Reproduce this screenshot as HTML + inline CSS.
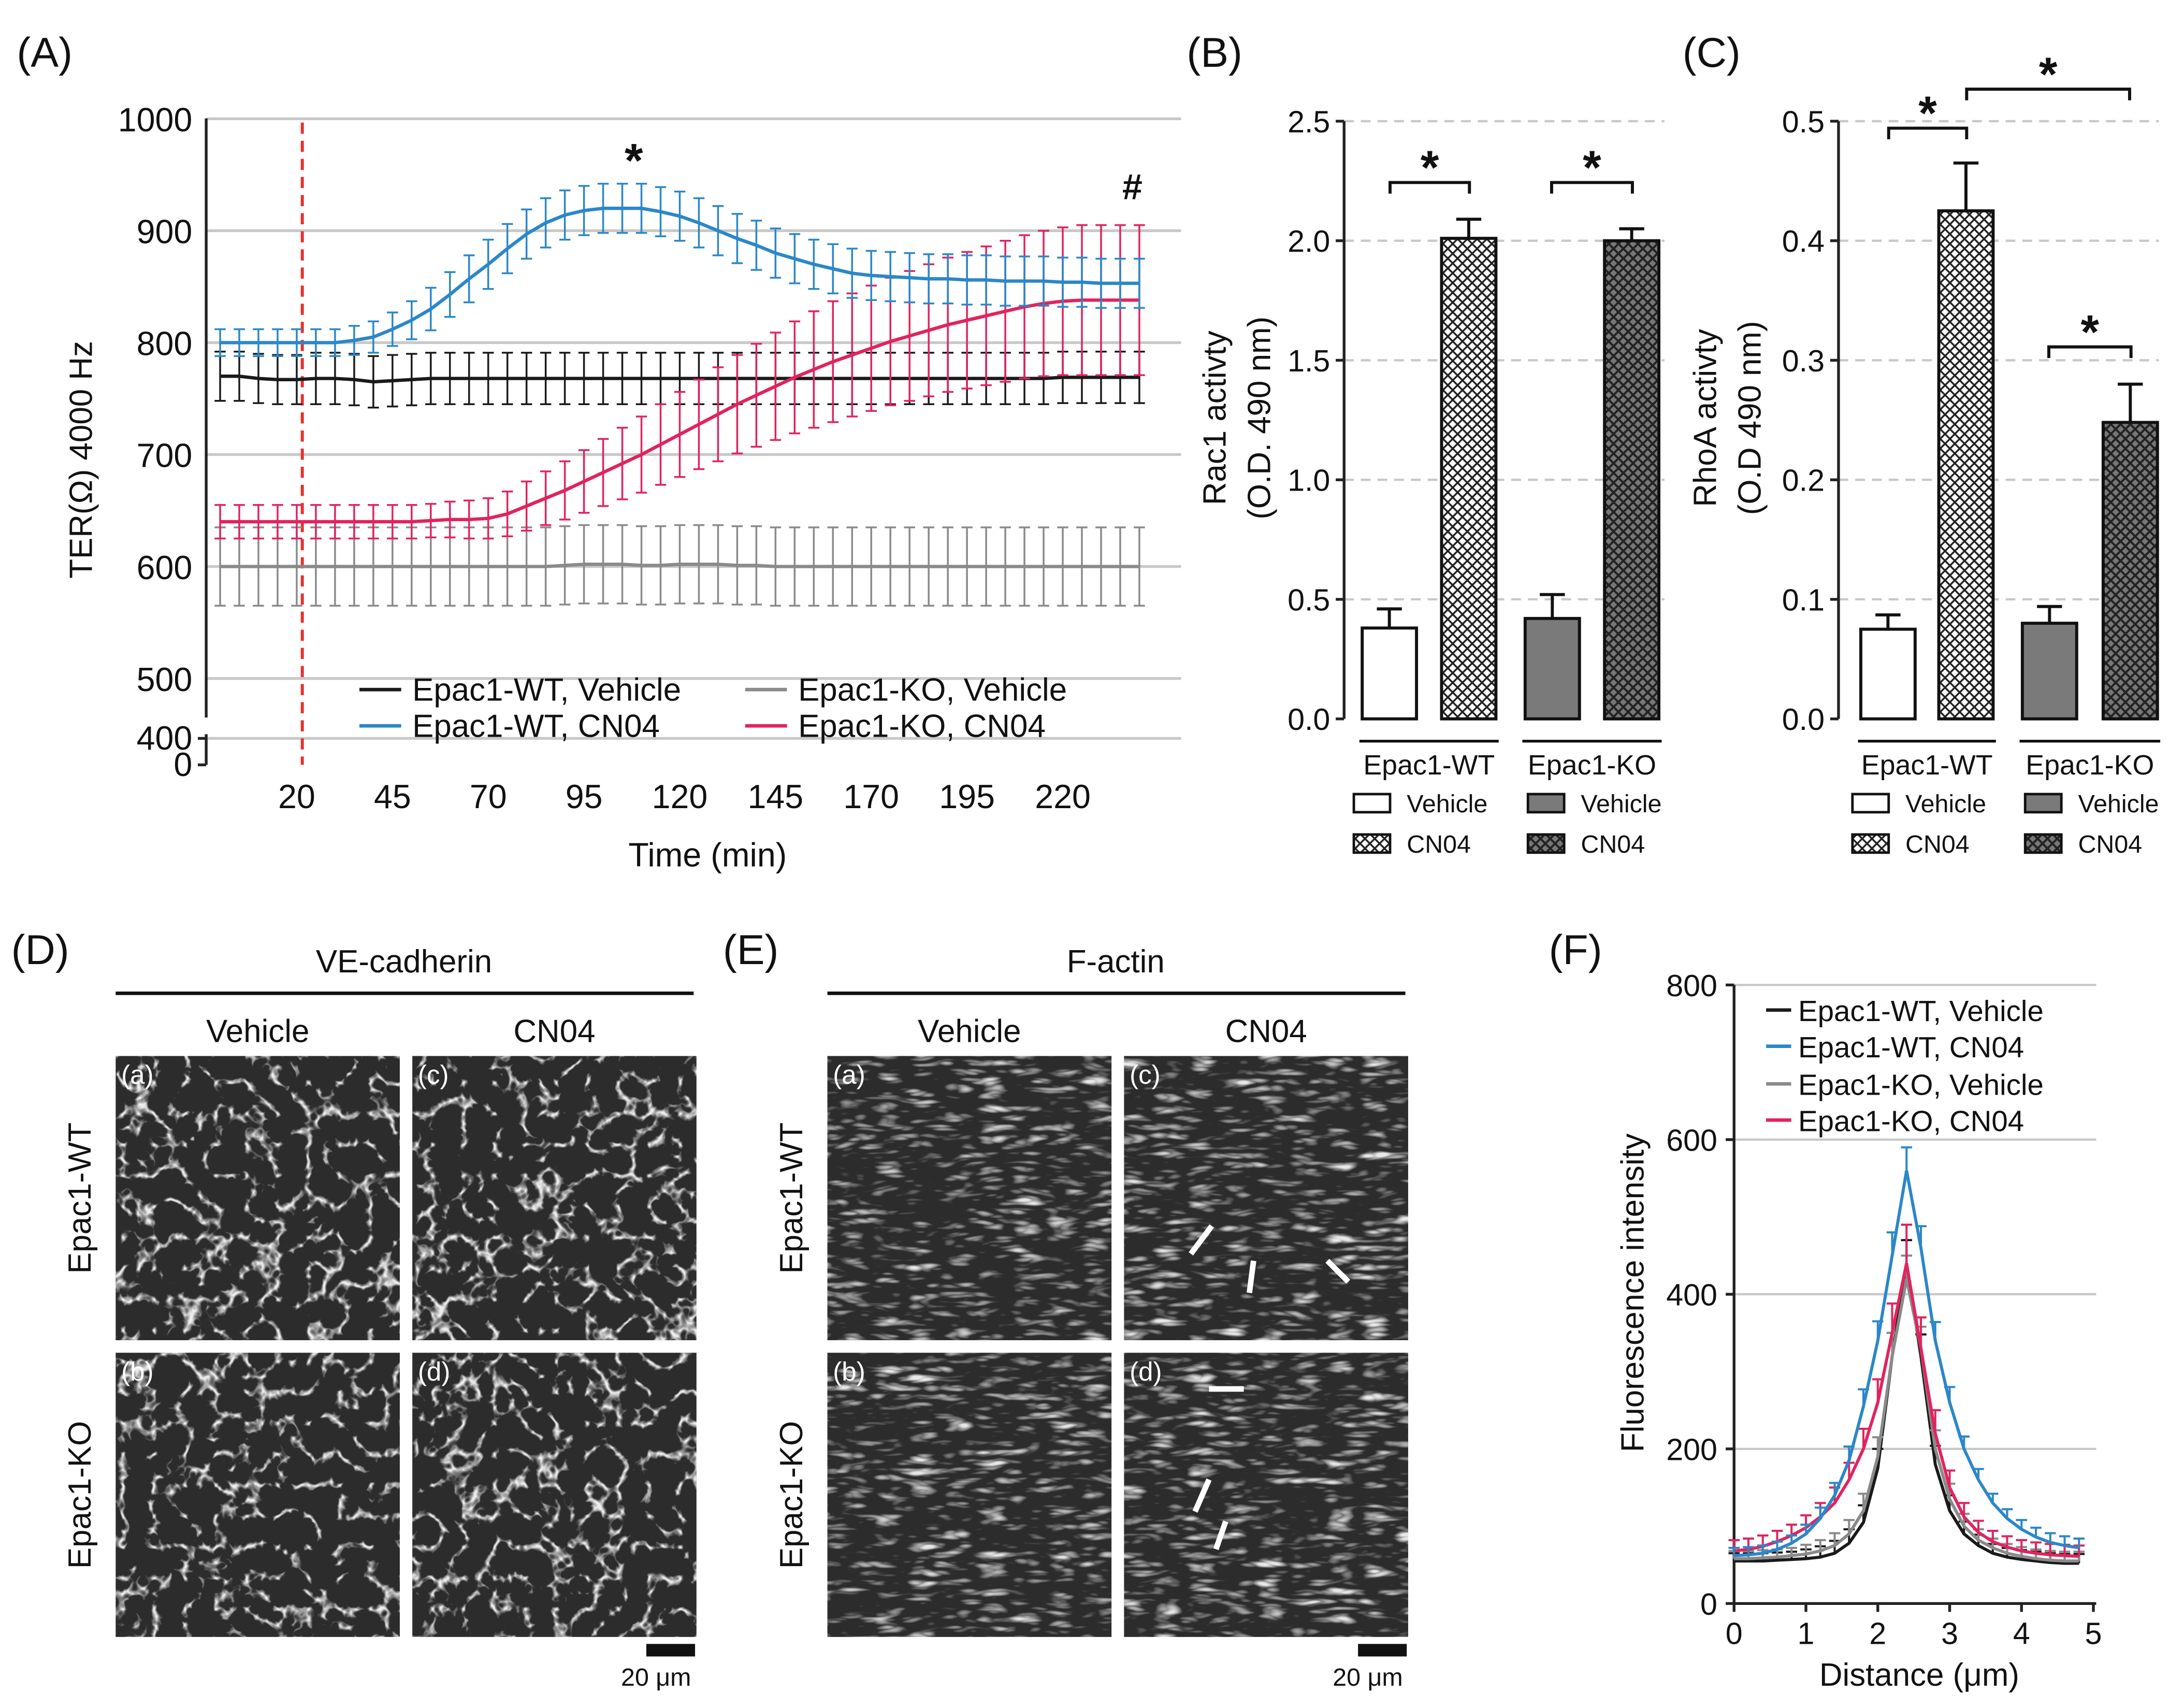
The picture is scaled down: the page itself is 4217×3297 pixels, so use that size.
<!DOCTYPE html>
<html><head><meta charset="utf-8"><style>
html,body{margin:0;padding:0;background:#fff}
svg{display:block}
text{font-family:"Liberation Sans",Arial,sans-serif;fill:#111}
</style></head><body>
<svg id="fig" width="4217" height="3297" viewBox="0 0 1568 1226" xmlns="http://www.w3.org/2000/svg">
<defs>
<pattern id="hatch" width="7" height="7" patternUnits="userSpaceOnUse"><rect width="7" height="7" fill="#fff"/><path d="M0,0L7,7M7,0L0,7" stroke="#222" stroke-width="1.3"/></pattern>
<pattern id="hatchd" width="7" height="7" patternUnits="userSpaceOnUse"><rect width="7" height="7" fill="#777"/><path d="M0,0L7,7M7,0L0,7" stroke="#222" stroke-width="1.5"/></pattern>
<filter id="tex1" x="0" y="0" width="100%" height="100%"><feTurbulence type="turbulence" baseFrequency="0.045" numOctaves="3" seed="3"/><feColorMatrix type="matrix" values="0 0 0 0 0.85 0 0 0 0 0.85 0 0 0 0 0.85 0 0 0 -6 1.25"/></filter>
<filter id="tex2" x="0" y="0" width="100%" height="100%"><feTurbulence type="turbulence" baseFrequency="0.04 0.15" numOctaves="2" seed="7"/><feColorMatrix type="matrix" values="0 0 0 0 0.8 0 0 0 0 0.8 0 0 0 0 0.8 0 0 0 2.2 -0.6"/></filter>
</defs>
<g id="root"></g>
</svg>
<script>
// ---------- Panel A data ----------
const aTimes=[0,5,10,15,20,25,30,35,40,45,50,55,60,65,70,75,80,85,90,95,100,105,110,115,120,125,130,135,140,145,150,155,160,165,170,175,180,185,190,195,200,205,210,215,220,225,230,235,240];
const aWTveh=[770,770,768,767,767,768,768,767,765,766,767,768,768,768,768,768,768,768,768,768,768,768,768,768,768,768,768,768,768,768,768,768,768,768,768,768,768,768,768,768,768,768,768,768,769,769,769,769,769];
const aWTvehErr=[22,22,22,22,22,23,23,23,23,23,23,23,23,23,23,23,23,23,23,23,23,23,23,23,23,23,23,23,23,23,23,23,23,23,23,23,23,23,23,23,23,23,23,23,23,23,23,23,23];
const aKOveh=[600,600,600,600,600,600,600,600,600,600,600,600,600,600,600,600,600,600,601,602,602,602,601,601,602,602,602,601,601,600,600,600,600,600,600,600,600,600,600,600,600,600,600,600,600,600,600,600,600];
const aKOvehErr=[35,35,35,35,35,35,35,35,35,35,35,35,35,35,35,35,35,35,35,35,35,35,35,35,35,35,35,35,35,35,35,35,35,35,35,35,35,35,35,35,35,35,35,35,35,35,35,35,35];
const aWTcn=[800,800,800,800,800,800,800,802,805,812,820,830,843,857,870,884,897,907,914,918,920,920,920,917,913,907,900,893,887,880,875,870,866,862,860,859,858,857,857,856,856,855,855,855,854,854,853,853,853];
const aWTcnErr=[12,12,12,12,12,12,12,13,14,15,17,19,20,21,22,22,22,22,22,22,22,22,22,22,22,22,22,22,22,22,22,22,22,22,22,22,22,22,22,22,22,22,22,22,22,22,22,22,22];
const aKOcn=[640,640,640,640,640,640,640,640,640,640,640,641,642,642,643,647,654,661,668,676,684,692,700,709,718,727,736,745,753,761,769,776,783,789,795,801,806,811,816,820,824,828,832,835,837,838,838,838,838];
const aKOcnErr=[15,15,15,15,15,15,15,15,15,15,15,15,16,17,18,20,22,24,26,28,30,32,34,36,38,40,42,44,46,48,50,52,54,55,56,57,58,59,60,61,62,63,64,65,66,67,67,67,67];
const aYTicks=[500,600,700,800,900,1000];
const aXTicks=[20,45,70,95,120,145,170,195,220];
// ---------- Panel B/C data ----------
const bVals=[0.38,2.01,0.42,2.00];
const bErrs=[0.08,0.08,0.10,0.05];
const bTicks=[0,0.5,1.0,1.5,2.0,2.5];
const cVals=[0.075,0.425,0.080,0.248];
const cErrs=[0.012,0.040,0.014,0.032];
const cTicks=[0,0.1,0.2,0.3,0.4,0.5];
// ---------- Panel F data ----------
const fDist=[0,0.2,0.4,0.6,0.8,1.0,1.2,1.4,1.6,1.8,2.0,2.2,2.4,2.6,2.8,3.0,3.2,3.4,3.6,3.8,4.0,4.2,4.4,4.6,4.8];
const fWTveh=[55,55,55,56,57,58,60,65,78,105,175,320,440,320,180,120,90,75,65,60,57,55,53,52,52];
const fWTcn=[62,63,65,70,78,90,110,140,185,255,340,450,560,460,340,260,200,160,130,110,96,86,79,75,72];
const fKOveh=[58,58,59,60,62,64,68,75,90,120,190,320,420,330,200,135,100,82,72,65,61,58,56,55,55];
const fKOcn=[68,70,74,80,88,98,112,130,160,200,260,350,440,330,220,150,112,92,80,73,68,65,63,62,61];
const fErrWT=[10,10,10,10,10,12,14,16,18,22,25,30,30,28,24,20,16,14,12,12,12,12,12,12,12];
const fErrKO=[14,14,14,14,14,16,18,20,22,26,30,38,50,40,30,22,18,15,14,14,14,14,14,14,14];
const fTicks=[0,200,400,600,800];
const fXTicks=[0,1,2,3,4,5];

const NS="http://www.w3.org/2000/svg";
const root=document.getElementById('root');
function el(tag,attrs,parent,txt){const e=document.createElementNS(NS,tag);for(const k in attrs)e.setAttribute(k,attrs[k]);if(txt!==undefined)e.textContent=txt;(parent||root).appendChild(e);return e;}

// ===== Panel A =====
const ax=t=>158+t*2.75;
const ay=v=>v>=500?487-(v-500)*0.8035:549-v*0.0475;
const gA=el('g',{});


let t=el('text',{x:12,y:48,'font-size':30},gA,'(A)');

aYTicks.forEach(v=>{
  const g=el('line',{x1:148,x2:848,y1:ay(v),y2:ay(v),stroke:'#c8c8c8','stroke-width':2},gA);
  
  const l=el('text',{x:138,y:ay(v)+9,'font-size':24,'text-anchor':'end'},gA,String(v));
  
});
el('line',{x1:148,x2:848,y1:530,y2:530,stroke:'#c8c8c8','stroke-width':2},gA);
t=el('text',{x:138,y:538,'font-size':24,'text-anchor':'end'},gA,'400');
t=el('text',{x:138,y:557,'font-size':24,'text-anchor':'end'},gA,'0');
el('path',{d:'M148,85V515M148,527V549',stroke:'#222','stroke-width':2,fill:'none'},gA);
[530,549].forEach(y=>el('line',{x1:142,x2:148,y1:y,y2:y,stroke:'#222','stroke-width':2},gA));
aXTicks.forEach(v=>{
  const l=el('text',{x:ax(v),y:580,'font-size':24,'text-anchor':'middle'},gA,String(v));
  
});
t=el('text',{x:508,y:622,'font-size':24,'text-anchor':'middle'},gA,'Time (min)');
t=el('text',{x:0,y:0,'font-size':23,'text-anchor':'middle',transform:'translate(66,330) rotate(-90)'},gA,'TER(Ω) 4000 Hz');
t=el('line',{x1:217,x2:217,y1:88,y2:549,stroke:'#e8312b','stroke-width':2.2,'stroke-dasharray':'8,5'},gA);

function aSeries(vals,errs,col,name){
  const g=el('g',{},gA);
  
  aTimes.forEach((tt,i)=>{
    const x=ax(tt),y1=ay(vals[i]-errs[i]),y2=ay(vals[i]+errs[i]);
    el('path',{d:`M${x},${y1}V${y2}M${x-4},${y1}H${x+4}M${x-4},${y2}H${x+4}`,stroke:col,'stroke-width':1.3,fill:'none'},g);
  });
  el('polyline',{points:aTimes.map((tt,i)=>ax(tt)+','+ay(vals[i])).join(' '),stroke:col,'stroke-width':2.4,fill:'none'},g);
}
aSeries(aKOveh,aKOvehErr,'#8a8a8a','series-epac1-ko-vehicle');
aSeries(aWTveh,aWTvehErr,'#1a1a1a','series-epac1-wt-vehicle');
aSeries(aKOcn,aKOcnErr,'#e0245e','series-epac1-ko-cn04');
aSeries(aWTcn,aWTcnErr,'#2b87c8','series-epac1-wt-cn04');
t=el('text',{x:455,y:127,'font-size':34,'text-anchor':'middle','font-weight':'bold'},gA,'*');
t=el('text',{x:813,y:143,'font-size':26,'text-anchor':'middle','font-weight':'bold'},gA,'#');
[['Epac1-WT, Vehicle','#1a1a1a',258,495],['Epac1-WT, CN04','#2b87c8',258,521],['Epac1-KO, Vehicle','#8a8a8a',535,495],['Epac1-KO, CN04','#e0245e',535,521]].forEach(d=>{
  const g=el('g',{},gA);
  
  el('line',{x1:d[2],x2:d[2]+30,y1:d[3],y2:d[3],stroke:d[1],'stroke-width':2.5},g);
  el('text',{x:d[2]+38,y:d[3]+8,'font-size':23},g,d[0]);
});

// ===== Bar panels =====
function barPanel(label,lx,axX,vals,errs,ticks,max,bx,title1,title2,titleX,name,stars){
  const g=el('g',{});
  
  const y=v=>516-v/max*429;
  let tx=el('text',{x:lx,y:48,'font-size':30},g,label);
  ticks.forEach(v=>{
    if(v>0){const gl=el('line',{x1:axX,x2:axX+230,y1:y(v),y2:y(v),stroke:'#c8c8c8','stroke-width':1.6,'stroke-dasharray':'7,5'},g);}
    el('line',{x1:axX-6,x2:axX,y1:y(v),y2:y(v),stroke:'#222','stroke-width':2},g);
    const l=el('text',{x:axX-10,y:y(v)+8,'font-size':22,'text-anchor':'end'},g,v.toFixed(1));
    
  });
  el('line',{x1:axX,x2:axX,y1:y(max),y2:516,stroke:'#222','stroke-width':2},g);
  const fills=['#fff','url(#hatch)','#7a7a7a','url(#hatchd)'];
  vals.forEach((v,i)=>{
    const x=bx[i],w=39;
    const r=el('rect',{x:x,y:y(v),width:w,height:516-y(v),fill:fills[i],stroke:'#111','stroke-width':2.2},g);
    
    const cx=x+w/2,ye=y(v+errs[i]);
    el('path',{d:`M${cx},${y(v)}V${ye}M${cx-9},${ye}H${cx+9}`,stroke:'#111','stroke-width':2.2,fill:'none'},g);
  });
  el('line',{x1:bx[0]-2,x2:bx[1]+41,y1:532,y2:532,stroke:'#111','stroke-width':2},g);
  el('line',{x1:bx[2]-2,x2:bx[3]+41,y1:532,y2:532,stroke:'#111','stroke-width':2},g);
  tx=el('text',{x:(bx[0]+bx[1]+39)/2,y:556,'font-size':20,'text-anchor':'middle'},g,'Epac1-WT');
  tx=el('text',{x:(bx[2]+bx[3]+39)/2,y:556,'font-size':20,'text-anchor':'middle'},g,'Epac1-KO');
  [[bx[0]-6,570,'#fff','Vehicle'],[bx[0]-6,599,'url(#hatch)','CN04'],[bx[2]+2,570,'#7a7a7a','Vehicle'],[bx[2]+2,599,'url(#hatchd)','CN04']].forEach(d=>{
    const lg=el('g',{},g);
    
    el('rect',{x:d[0],y:d[1],width:26,height:13,fill:d[2],stroke:'#111','stroke-width':1.8},lg);
    el('text',{x:d[0]+38,y:d[1]+13,'font-size':18},lg,d[3]);
  });
  tx=el('text',{x:0,y:0,'font-size':23,'text-anchor':'middle',transform:`translate(${titleX},300) rotate(-90)`},g,title1);
  el('text',{x:0,y:0,'font-size':23,'text-anchor':'middle',transform:`translate(${titleX+32},300) rotate(-90)`},g,title2);
  stars.forEach(s=>{
    const sg=el('g',{},g);
    
    el('path',{d:`M${s[0]},${s[2]+8}V${s[2]}H${s[1]}V${s[2]+8}`,stroke:'#111','stroke-width':2.2,fill:'none'},sg);
    el('text',{x:(s[0]+s[1])/2,y:s[2]+1,'font-size':34,'font-weight':'bold','text-anchor':'middle'},sg,'*');
  });
}
barPanel('(B)',852,965,bVals,bErrs,bTicks,2.5,[978,1035,1095,1152],'Rac1 activty','(O.D. 490 nm)',880,'panel-b-rac1-chart',[[998,1055,131],[1114,1172,131]]);
barPanel('(C)',1208,1320,cVals,cErrs,cTicks,0.5,[1336,1392,1452,1510],'RhoA activty','(O.D 490 nm)',1232,'panel-c-rhoa-chart',[[1356,1412,92],[1412,1529,64],[1471,1530,249]]);

// ===== Micrographs =====
function panelImg(label,title,x0,tex,name){
  const g=el('g',{});
  
  let tx=el('text',{x:x0-75,y:692,'font-size':30},g,label);
  tx=el('text',{x:x0+207,y:698,'font-size':23,'text-anchor':'middle'},g,title);
  el('line',{x1:x0,x2:x0+415,y1:713,y2:713,stroke:'#111','stroke-width':2.5},g);
  el('text',{x:x0+102,y:748,'font-size':23,'text-anchor':'middle'},g,'Vehicle');
  el('text',{x:x0+315,y:748,'font-size':23,'text-anchor':'middle'},g,'CN04');
  el('text',{x:0,y:0,'font-size':23,'text-anchor':'middle',transform:`translate(${x0-18},860) rotate(-90)`},g,'Epac1-WT');
  el('text',{x:0,y:0,'font-size':23,'text-anchor':'middle',transform:`translate(${x0-18},1073) rotate(-90)`},g,'Epac1-KO');
  [[x0,758,'(a)'],[x0+213,758,'(c)'],[x0,971,'(b)'],[x0+213,971,'(d)']].forEach(d=>{
    const ig=el('g',{},g);
    
    el('rect',{x:d[0],y:d[1],width:204,height:204,fill:'#2c2c2c'},ig);
    el('rect',{x:d[0],y:d[1],width:204,height:204,filter:`url(#${tex})`},ig);
    el('text',{x:d[0]+4,y:d[1]+20,'font-size':19,style:'fill:#fff'},ig,d[2]);
  });
  const sb=el('rect',{x:x0+381,y:1180,width:35,height:9,fill:'#111'},g);
  
  el('text',{x:x0+388,y:1210,'font-size':18,'text-anchor':'middle'},g,'20 μm');
}
panelImg('(D)','VE-cadherin',83,'tex1','panel-d-ve-cadherin');
panelImg('(E)','F-actin',594,'tex2','panel-e-f-actin');
[[870,880,855,900],[900,905,897,928],[953,905,968,920],[893,997,868,997],[868,1062,858,1085],[880,1092,873,1112]].forEach(a=>{
  const ar=el('line',{x1:a[0],y1:a[1],x2:a[2],y2:a[3],stroke:'#fff','stroke-width':4});
  
});

// ===== Panel F =====
const fx=d=>1245+d*51.6;
const fy=v=>1151-v*0.555;
const gF=el('g',{});

t=el('text',{x:1112,y:692,'font-size':30},gF,'(F)');
fTicks.forEach(v=>{
  if(v>0){const gl=el('line',{x1:1245,x2:1505,y1:fy(v),y2:fy(v),stroke:'#c8c8c8','stroke-width':1.6},gF);}
  el('line',{x1:1239,x2:1245,y1:fy(v),y2:fy(v),stroke:'#222','stroke-width':2},gF);
  const l=el('text',{x:1233,y:fy(v)+8,'font-size':22,'text-anchor':'end'},gF,String(v));
  
});
fXTicks.forEach(v=>{
  el('line',{x1:fx(v),x2:fx(v),y1:1151,y2:1157,stroke:'#222','stroke-width':2},gF);
  const l=el('text',{x:fx(v),y:1180,'font-size':22,'text-anchor':'middle'},gF,String(v));
  
});
el('path',{d:'M1245,707V1151H1505',stroke:'#222','stroke-width':2,fill:'none'},gF);
t=el('text',{x:1378,y:1210,'font-size':23,'text-anchor':'middle'},gF,'Distance (μm)');
t=el('text',{x:0,y:0,'font-size':23,'text-anchor':'middle',transform:'translate(1180,928) rotate(-90)'},gF,'Fluorescence intensity');
function fSeries(vals,errs,col,name){
  const g=el('g',{},gF);
  
  fDist.forEach((d,i)=>{
    const x=fx(d),y2=fy(vals[i]+errs[i]);
    el('path',{d:`M${x},${fy(vals[i])}V${y2}M${x-4},${y2}H${x+4}`,stroke:col,'stroke-width':1.5,fill:'none'},g);
  });
  el('polyline',{points:fDist.map((d,i)=>fx(d)+','+fy(vals[i])).join(' '),stroke:col,'stroke-width':2.2,fill:'none'},g);
}
fSeries(fWTveh,fErrWT,'#1a1a1a','f-series-wt-vehicle');
fSeries(fKOveh,fErrWT,'#8a8a8a','f-series-ko-vehicle');
fSeries(fKOcn,fErrKO,'#e0245e','f-series-ko-cn04');
fSeries(fWTcn,fErrWT,'#2b87c8','f-series-wt-cn04');
[['Epac1-WT, Vehicle','#1a1a1a',725],['Epac1-WT, CN04','#2b87c8',751],['Epac1-KO, Vehicle','#8a8a8a',778],['Epac1-KO, CN04','#e0245e',804]].forEach(d=>{
  const g=el('g',{},gF);
  
  el('line',{x1:1268,x2:1286,y1:d[2],y2:d[2],stroke:d[1],'stroke-width':2.5},g);
  el('text',{x:1291,y:d[2]+8,'font-size':21},g,d[0]);
});
</script>
</body></html>
